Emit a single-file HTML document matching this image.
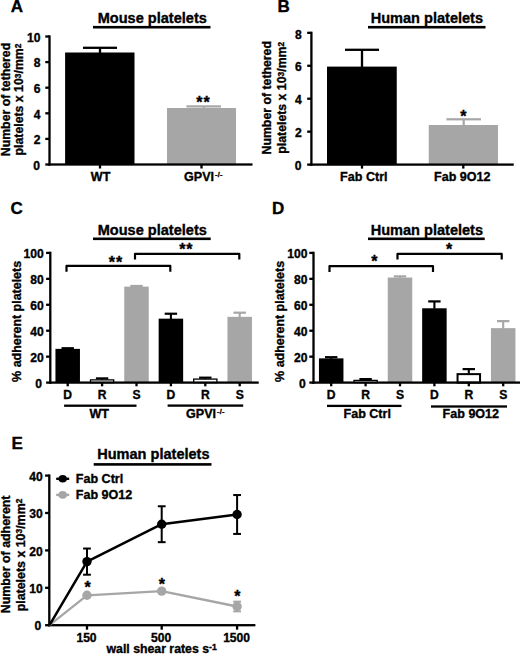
<!DOCTYPE html>
<html><head><meta charset="utf-8"><title>Figure</title>
<style>
html,body{margin:0;padding:0;background:#fff;}
svg{display:block;}
svg text{font-family:"Liberation Sans",Arial,Helvetica,sans-serif;font-weight:bold;fill:#000;stroke:#000;stroke-width:0.35px;}
</style></head><body>
<svg width="520" height="654" viewBox="0 0 520 654">
<rect x="0" y="0" width="520" height="654" fill="#fff"/>
<text x="10.70" y="12.40" font-size="17" text-anchor="start" >A</text>
<text x="97.70" y="23.00" font-size="14.55" text-anchor="start" >Mouse platelets</text>
<rect x="93.00" y="25.90" width="117.50" height="2.60" fill="#000" />
<rect x="48.35" y="35.35" width="2.30" height="130.30" fill="#000" />
<rect x="45.30" y="163.35" width="4.20" height="2.30" fill="#000" />
<text x="40.10" y="169.70" font-size="12.1" text-anchor="end" >0</text>
<rect x="45.30" y="137.75" width="4.20" height="2.30" fill="#000" />
<text x="40.40" y="144.10" font-size="12.1" text-anchor="end" >2</text>
<rect x="45.30" y="112.15" width="4.20" height="2.30" fill="#000" />
<text x="40.40" y="118.50" font-size="12.1" text-anchor="end" >4</text>
<rect x="45.30" y="86.55" width="4.20" height="2.30" fill="#000" />
<text x="40.40" y="92.90" font-size="12.1" text-anchor="end" >6</text>
<rect x="45.30" y="60.95" width="4.20" height="2.30" fill="#000" />
<text x="40.40" y="67.30" font-size="12.1" text-anchor="end" >8</text>
<rect x="45.30" y="35.35" width="4.20" height="2.30" fill="#000" />
<text x="40.40" y="41.70" font-size="12.1" text-anchor="end" >10</text>
<rect x="65.10" y="52.50" width="69.40" height="112.00" fill="#000" />
<rect x="98.85" y="47.80" width="2.30" height="5.20" fill="#000" />
<rect x="83.00" y="46.65" width="34.00" height="2.30" fill="#000" />
<rect x="167.00" y="108.00" width="69.00" height="56.50" fill="#a6a6a6" />
<rect x="202.70" y="106.40" width="2.00" height="2.10" fill="#a6a6a6" />
<rect x="186.45" y="105.30" width="34.50" height="2.20" fill="#a6a6a6" />
<rect x="48.50" y="163.35" width="204.00" height="2.30" fill="#000" />
<rect x="98.85" y="164.50" width="2.30" height="4.00" fill="#000" />
<rect x="200.35" y="164.50" width="2.30" height="4.00" fill="#000" />
<text x="100.60" y="181.00" font-size="12.55" text-anchor="middle" >WT</text>
<text x="184.00" y="181.00" font-size="12.55" text-anchor="start" >GPVI<tspan font-size="7.2" dx="0.9" dy="-4.0" letter-spacing="0.4">-/-</tspan></text>
<text x="199.30" y="107.66" font-size="16" text-anchor="middle" >*</text>
<text x="206.50" y="107.66" font-size="16" text-anchor="middle" >*</text>
<text transform="translate(9.80,99.50) rotate(-90)" font-size="12.3" text-anchor="middle">Number of tethered</text>
<text transform="translate(23.10,99.50) rotate(-90)" font-size="12.3" text-anchor="middle">platelets x 10<tspan font-size="8.4" dx="0" dy="-2.2" letter-spacing="0">3</tspan><tspan dy="2.2">/mm</tspan><tspan font-size="8.4" dx="0" dy="-2.2" letter-spacing="0">2</tspan></text>
<text x="277.60" y="12.30" font-size="17" text-anchor="start" >B</text>
<text x="370.70" y="23.00" font-size="14.55" text-anchor="start" >Human platelets</text>
<rect x="368.00" y="25.90" width="117.50" height="2.60" fill="#000" />
<rect x="310.25" y="31.69" width="2.30" height="134.06" fill="#000" />
<rect x="307.20" y="163.45" width="4.20" height="2.30" fill="#000" />
<text x="301.50" y="170.30" font-size="12.1" text-anchor="end" >0</text>
<rect x="307.20" y="130.51" width="4.20" height="2.30" fill="#000" />
<text x="301.80" y="137.36" font-size="12.1" text-anchor="end" >2</text>
<rect x="307.20" y="97.57" width="4.20" height="2.30" fill="#000" />
<text x="301.80" y="104.42" font-size="12.1" text-anchor="end" >4</text>
<rect x="307.20" y="64.63" width="4.20" height="2.30" fill="#000" />
<text x="301.80" y="71.48" font-size="12.1" text-anchor="end" >6</text>
<rect x="307.20" y="31.69" width="4.20" height="2.30" fill="#000" />
<text x="301.80" y="38.54" font-size="12.1" text-anchor="end" >8</text>
<rect x="327.00" y="66.60" width="69.75" height="98.00" fill="#000" />
<rect x="360.85" y="49.80" width="2.30" height="17.20" fill="#000" />
<rect x="345.00" y="48.65" width="34.00" height="2.30" fill="#000" />
<rect x="428.75" y="125.00" width="69.25" height="39.60" fill="#a6a6a6" />
<rect x="462.60" y="119.30" width="2.20" height="6.20" fill="#a6a6a6" />
<rect x="446.45" y="118.20" width="34.50" height="2.20" fill="#a6a6a6" />
<rect x="310.40" y="163.45" width="203.35" height="2.30" fill="#000" />
<rect x="360.85" y="164.60" width="2.30" height="4.00" fill="#000" />
<rect x="462.15" y="164.60" width="2.30" height="4.00" fill="#000" />
<text x="363.80" y="181.00" font-size="12.55" text-anchor="middle" >Fab Ctrl</text>
<text x="462.30" y="181.00" font-size="12.55" text-anchor="middle" >Fab 9O12</text>
<text x="463.40" y="121.56" font-size="16" text-anchor="middle" >*</text>
<text transform="translate(271.40,97.75) rotate(-90)" font-size="12.3" text-anchor="middle">Number of tethered</text>
<text transform="translate(285.70,97.75) rotate(-90)" font-size="12.3" text-anchor="middle">platelets x 10<tspan font-size="8.4" dx="0" dy="-2.2" letter-spacing="0">3</tspan><tspan dy="2.2">/mm</tspan><tspan font-size="8.4" dx="0" dy="-2.2" letter-spacing="0">2</tspan></text>
<text x="10.50" y="213.50" font-size="17" text-anchor="start" >C</text>
<text x="97.70" y="234.50" font-size="14.55" text-anchor="start" >Mouse platelets</text>
<rect x="93.00" y="237.50" width="117.70" height="2.60" fill="#000" />
<rect x="49.15" y="251.75" width="2.30" height="132.00" fill="#000" />
<rect x="46.10" y="381.45" width="4.20" height="2.30" fill="#000" />
<text x="42.00" y="388.10" font-size="12.1" text-anchor="end" >0</text>
<rect x="46.10" y="355.51" width="4.20" height="2.30" fill="#000" />
<text x="43.70" y="362.16" font-size="12.1" text-anchor="end" >20</text>
<rect x="46.10" y="329.57" width="4.20" height="2.30" fill="#000" />
<text x="43.70" y="336.22" font-size="12.1" text-anchor="end" >40</text>
<rect x="46.10" y="303.63" width="4.20" height="2.30" fill="#000" />
<text x="43.70" y="310.28" font-size="12.1" text-anchor="end" >60</text>
<rect x="46.10" y="277.69" width="4.20" height="2.30" fill="#000" />
<text x="43.70" y="284.34" font-size="12.1" text-anchor="end" >80</text>
<rect x="46.10" y="251.75" width="4.20" height="2.30" fill="#000" />
<text x="43.70" y="258.40" font-size="12.1" text-anchor="end" >100</text>
<rect x="66.65" y="348.23" width="2.10" height="1.15" fill="#000" />
<rect x="61.50" y="347.13" width="12.40" height="2.20" fill="#000" />
<rect x="55.45" y="348.88" width="24.50" height="33.72" fill="#000" />
<rect x="101.05" y="378.40" width="2.10" height="1.33" fill="#000" />
<rect x="95.90" y="377.30" width="12.40" height="2.20" fill="#000" />
<rect x="90.50" y="379.88" width="23.20" height="2.72" fill="#fff" stroke="#000" stroke-width="1.3"/>
<rect x="135.45" y="285.97" width="2.10" height="1.15" fill="#a6a6a6" />
<rect x="130.30" y="284.87" width="12.40" height="2.20" fill="#a6a6a6" />
<rect x="124.25" y="286.62" width="24.50" height="95.98" fill="#a6a6a6" />
<rect x="169.85" y="313.73" width="2.10" height="5.43" fill="#000" />
<rect x="164.70" y="312.63" width="12.40" height="2.20" fill="#000" />
<rect x="158.65" y="318.66" width="24.50" height="63.94" fill="#000" />
<rect x="204.25" y="377.67" width="2.10" height="1.28" fill="#000" />
<rect x="199.10" y="376.57" width="12.40" height="2.20" fill="#000" />
<rect x="193.70" y="379.10" width="23.20" height="3.50" fill="#fff" stroke="#000" stroke-width="1.3"/>
<rect x="238.65" y="312.69" width="2.10" height="4.65" fill="#a6a6a6" />
<rect x="233.50" y="311.59" width="12.40" height="2.20" fill="#a6a6a6" />
<rect x="227.45" y="316.84" width="24.50" height="65.76" fill="#a6a6a6" />
<rect x="49.30" y="381.45" width="209.40" height="2.30" fill="#000" />
<rect x="66.55" y="382.60" width="2.30" height="3.70" fill="#000" />
<text x="67.70" y="399.00" font-size="12.1" text-anchor="middle" >D</text>
<rect x="100.95" y="382.60" width="2.30" height="3.70" fill="#000" />
<text x="102.10" y="399.00" font-size="12.1" text-anchor="middle" >R</text>
<rect x="135.35" y="382.60" width="2.30" height="3.70" fill="#000" />
<text x="136.50" y="399.00" font-size="12.1" text-anchor="middle" >S</text>
<rect x="169.75" y="382.60" width="2.30" height="3.70" fill="#000" />
<text x="170.90" y="399.00" font-size="12.1" text-anchor="middle" >D</text>
<rect x="204.15" y="382.60" width="2.30" height="3.70" fill="#000" />
<text x="205.30" y="399.00" font-size="12.1" text-anchor="middle" >R</text>
<rect x="238.55" y="382.60" width="2.30" height="3.70" fill="#000" />
<text x="239.70" y="399.00" font-size="12.1" text-anchor="middle" >S</text>
<rect x="64.10" y="404.55" width="72.40" height="2.30" fill="#000" />
<text x="99.20" y="418.20" font-size="12.55" text-anchor="middle" >WT</text>
<rect x="167.60" y="404.45" width="75.60" height="2.30" fill="#000" />
<text x="186.00" y="417.80" font-size="12.55" text-anchor="start" >GPVI<tspan font-size="7.2" dx="0.9" dy="-4.0" letter-spacing="0.4">-/-</tspan></text>
<path d="M66.50 271.70 V265.90 H170.30 V271.70" fill="none" stroke="#000" stroke-width="2.2" stroke-linejoin="round"/>
<path d="M135.00 259.60 V253.80 H239.30 V259.60" fill="none" stroke="#000" stroke-width="2.2" stroke-linejoin="round"/>
<text x="111.90" y="267.66" font-size="16" text-anchor="middle" >*</text>
<text x="119.00" y="267.66" font-size="16" text-anchor="middle" >*</text>
<text x="182.30" y="254.86" font-size="16" text-anchor="middle" >*</text>
<text x="189.30" y="254.86" font-size="16" text-anchor="middle" >*</text>
<text transform="translate(21.10,321.40) rotate(-90)" font-size="12.45" text-anchor="middle">% adherent platelets</text>
<text x="272.00" y="213.50" font-size="17" text-anchor="start" >D</text>
<text x="370.70" y="234.50" font-size="14.55" text-anchor="start" >Human platelets</text>
<rect x="368.00" y="237.50" width="116.70" height="2.60" fill="#000" />
<rect x="312.35" y="251.75" width="2.30" height="132.00" fill="#000" />
<rect x="309.30" y="381.45" width="4.20" height="2.30" fill="#000" />
<text x="305.80" y="388.10" font-size="12.1" text-anchor="end" >0</text>
<rect x="309.30" y="355.51" width="4.20" height="2.30" fill="#000" />
<text x="307.50" y="362.16" font-size="12.1" text-anchor="end" >20</text>
<rect x="309.30" y="329.57" width="4.20" height="2.30" fill="#000" />
<text x="307.50" y="336.22" font-size="12.1" text-anchor="end" >40</text>
<rect x="309.30" y="303.63" width="4.20" height="2.30" fill="#000" />
<text x="307.50" y="310.28" font-size="12.1" text-anchor="end" >60</text>
<rect x="309.30" y="277.69" width="4.20" height="2.30" fill="#000" />
<text x="307.50" y="284.34" font-size="12.1" text-anchor="end" >80</text>
<rect x="309.30" y="251.75" width="4.20" height="2.30" fill="#000" />
<text x="307.50" y="258.40" font-size="12.1" text-anchor="end" >100</text>
<rect x="330.15" y="357.18" width="2.10" height="1.67" fill="#000" />
<rect x="325.00" y="356.08" width="12.40" height="2.20" fill="#000" />
<rect x="318.95" y="358.35" width="24.50" height="24.25" fill="#000" />
<rect x="364.55" y="379.10" width="2.10" height="1.15" fill="#000" />
<rect x="359.40" y="378.00" width="12.40" height="2.20" fill="#000" />
<rect x="354.00" y="380.40" width="23.20" height="2.20" fill="#fff" stroke="#000" stroke-width="1.3"/>
<rect x="398.95" y="276.38" width="2.10" height="1.67" fill="#a6a6a6" />
<rect x="393.80" y="275.28" width="12.40" height="2.20" fill="#a6a6a6" />
<rect x="387.75" y="277.54" width="24.50" height="105.06" fill="#a6a6a6" />
<rect x="433.35" y="301.41" width="2.10" height="7.37" fill="#000" />
<rect x="428.20" y="300.31" width="12.40" height="2.20" fill="#000" />
<rect x="422.15" y="308.28" width="24.50" height="74.32" fill="#000" />
<rect x="467.75" y="369.11" width="2.10" height="4.52" fill="#000" />
<rect x="462.60" y="368.01" width="12.40" height="2.20" fill="#000" />
<rect x="457.55" y="374.13" width="22.50" height="8.47" fill="#fff" stroke="#000" stroke-width="2"/>
<rect x="502.15" y="321.12" width="2.10" height="7.50" fill="#a6a6a6" />
<rect x="497.00" y="320.02" width="12.40" height="2.20" fill="#a6a6a6" />
<rect x="490.95" y="328.13" width="24.50" height="54.47" fill="#a6a6a6" />
<rect x="312.50" y="381.45" width="207.50" height="2.30" fill="#000" />
<rect x="330.05" y="382.60" width="2.30" height="3.70" fill="#000" />
<text x="331.20" y="399.00" font-size="12.1" text-anchor="middle" >D</text>
<rect x="364.45" y="382.60" width="2.30" height="3.70" fill="#000" />
<text x="365.60" y="399.00" font-size="12.1" text-anchor="middle" >R</text>
<rect x="398.85" y="382.60" width="2.30" height="3.70" fill="#000" />
<text x="400.00" y="399.00" font-size="12.1" text-anchor="middle" >S</text>
<rect x="433.25" y="382.60" width="2.30" height="3.70" fill="#000" />
<text x="434.40" y="399.00" font-size="12.1" text-anchor="middle" >D</text>
<rect x="467.65" y="382.60" width="2.30" height="3.70" fill="#000" />
<text x="468.80" y="399.00" font-size="12.1" text-anchor="middle" >R</text>
<rect x="502.05" y="382.60" width="2.30" height="3.70" fill="#000" />
<text x="503.20" y="399.00" font-size="12.1" text-anchor="middle" >S</text>
<rect x="327.00" y="404.75" width="74.50" height="2.30" fill="#000" />
<text x="343.50" y="418.30" font-size="12.55" text-anchor="start" >Fab Ctrl</text>
<rect x="431.00" y="405.35" width="76.00" height="2.30" fill="#000" />
<text x="442.60" y="418.30" font-size="12.55" text-anchor="start" >Fab 9O12</text>
<path d="M329.50 272.00 V266.20 H433.00 V272.00" fill="none" stroke="#000" stroke-width="2.2" stroke-linejoin="round"/>
<path d="M397.50 259.60 V253.80 H501.70 V259.60" fill="none" stroke="#000" stroke-width="2.2" stroke-linejoin="round"/>
<text x="374.40" y="267.36" font-size="16" text-anchor="middle" >*</text>
<text x="449.00" y="255.46" font-size="16" text-anchor="middle" >*</text>
<text transform="translate(284.40,321.40) rotate(-90)" font-size="12.45" text-anchor="middle">% adherent platelets</text>
<text x="11.50" y="449.10" font-size="17" text-anchor="start" >E</text>
<text x="97.20" y="459.40" font-size="14.55" text-anchor="start" >Human platelets</text>
<rect x="93.70" y="463.10" width="117.80" height="2.60" fill="#000" />
<rect x="48.15" y="474.45" width="2.30" height="151.90" fill="#000" />
<rect x="45.10" y="624.05" width="4.20" height="2.30" fill="#000" />
<text x="41.20" y="630.40" font-size="12.1" text-anchor="end" >0</text>
<rect x="45.10" y="586.65" width="4.20" height="2.30" fill="#000" />
<text x="42.70" y="593.00" font-size="12.1" text-anchor="end" >10</text>
<rect x="45.10" y="549.25" width="4.20" height="2.30" fill="#000" />
<text x="42.70" y="555.60" font-size="12.1" text-anchor="end" >20</text>
<rect x="45.10" y="511.85" width="4.20" height="2.30" fill="#000" />
<text x="42.70" y="518.20" font-size="12.1" text-anchor="end" >30</text>
<rect x="45.10" y="474.45" width="4.20" height="2.30" fill="#000" />
<text x="42.70" y="480.80" font-size="12.1" text-anchor="end" >40</text>
<rect x="48.30" y="624.05" width="207.10" height="2.30" fill="#000" />
<rect x="85.85" y="625.20" width="2.30" height="4.50" fill="#000" />
<text x="86.50" y="641.50" font-size="12.1" text-anchor="middle" >150</text>
<rect x="160.55" y="625.20" width="2.30" height="4.50" fill="#000" />
<text x="161.20" y="641.50" font-size="12.1" text-anchor="middle" >500</text>
<rect x="235.95" y="625.20" width="2.30" height="4.50" fill="#000" />
<text x="236.60" y="641.50" font-size="12.1" text-anchor="middle" >1500</text>
<text x="161.60" y="653.30" font-size="12.3" text-anchor="middle" >wall shear rates s<tspan font-size="8.6" dx="0" dy="-3.8" letter-spacing="0">-1</tspan></text>
<polyline points="49.50,625.20 87.00,595.28 161.70,591.17 237.10,606.50" fill="none" stroke="#a6a6a6" stroke-width="2.3" stroke-linejoin="round"/>
<circle cx="87.00" cy="595.28" r="4.7" fill="#a6a6a6"/>
<circle cx="161.70" cy="591.17" r="4.7" fill="#a6a6a6"/>
<rect x="236.10" y="601.64" width="2.00" height="9.72" fill="#a6a6a6" />
<rect x="233.20" y="600.64" width="7.80" height="2.00" fill="#a6a6a6" />
<rect x="233.20" y="610.36" width="7.80" height="2.00" fill="#a6a6a6" />
<circle cx="237.10" cy="606.50" r="4.7" fill="#a6a6a6"/>
<polyline points="49.50,625.20 87.00,561.62 161.70,524.22 237.10,514.50" fill="none" stroke="#000" stroke-width="2.5" stroke-linejoin="round"/>
<rect x="86.00" y="548.53" width="2.00" height="26.18" fill="#000" />
<rect x="83.10" y="547.53" width="7.80" height="2.00" fill="#000" />
<rect x="83.10" y="573.71" width="7.80" height="2.00" fill="#000" />
<circle cx="87.00" cy="561.62" r="4.7" fill="#000"/>
<rect x="160.70" y="506.27" width="2.00" height="35.90" fill="#000" />
<rect x="157.80" y="505.27" width="7.80" height="2.00" fill="#000" />
<rect x="157.80" y="541.17" width="7.80" height="2.00" fill="#000" />
<circle cx="161.70" cy="524.22" r="4.7" fill="#000"/>
<rect x="236.10" y="495.05" width="2.00" height="38.90" fill="#000" />
<rect x="233.20" y="494.05" width="7.80" height="2.00" fill="#000" />
<rect x="233.20" y="532.94" width="7.80" height="2.00" fill="#000" />
<circle cx="237.10" cy="514.50" r="4.7" fill="#000"/>
<text x="87.50" y="593.26" font-size="16" text-anchor="middle" >*</text>
<text x="161.90" y="589.96" font-size="16" text-anchor="middle" >*</text>
<text x="237.30" y="602.06" font-size="16" text-anchor="middle" >*</text>
<rect x="56.20" y="477.60" width="13.00" height="2.40" fill="#000" />
<ellipse cx="62.7" cy="478.8" rx="4.2" ry="3.8" fill="#000"/>
<text x="75.80" y="483.00" font-size="12.55" text-anchor="start" >Fab Ctrl</text>
<rect x="56.20" y="493.70" width="13.00" height="2.40" fill="#a6a6a6" />
<ellipse cx="62.7" cy="494.9" rx="4.2" ry="3.8" fill="#a6a6a6"/>
<text x="75.80" y="499.10" font-size="12.55" text-anchor="start" >Fab 9O12</text>
<text transform="translate(10.10,554.40) rotate(-90)" font-size="12.4" text-anchor="middle">Number of adherent</text>
<text transform="translate(24.60,555.00) rotate(-90)" font-size="12.4" text-anchor="middle">platelets x 10<tspan font-size="8.4" dx="0" dy="-2.2" letter-spacing="0">3</tspan><tspan dy="2.2">/mm</tspan><tspan font-size="8.4" dx="0" dy="-2.2" letter-spacing="0">2</tspan></text>
</svg>
</body></html>
